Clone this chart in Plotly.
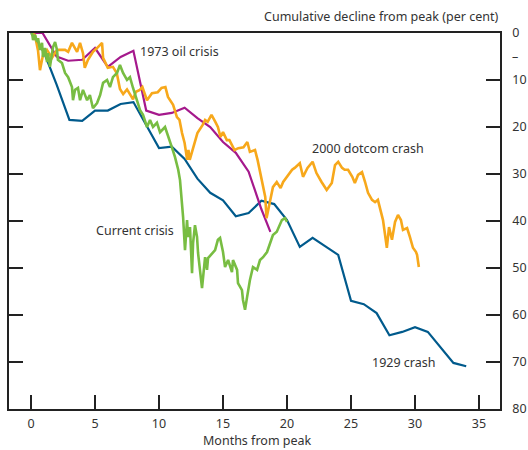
import plotly.graph_objects as go

# 1929 crash (monthly)
m1929 = [0, 1, 2, 3, 4, 5, 6, 7, 8, 9, 10, 11, 12, 13, 14, 15, 16, 17, 18, 19, 20,
         21, 22, 23, 24, 25, 26, 27, 28, 29, 30, 31, 32, 33, 34]
v1929 = [0, 4, 11, 18.5, 18.7, 16.5, 16.5, 15.1, 14.7, 19.5, 24.5, 24.2, 26.8, 31, 34,
         35.6, 39, 38.3, 35.7, 36.4, 39.8, 45.5, 43.6, 45.4, 47.2, 57, 57.7, 59.6,
         64.3, 63.6, 62.6, 63.6, 67, 70.2, 70.9]

# 1973 oil crisis
m1973 = [0, 0.9, 2, 2.9, 4, 5, 6, 7, 8, 9, 10, 11, 12, 13, 14, 15, 16, 17, 18, 18.7]
v1973 = [0, 0, 5, 5.9, 5.7, 3.2, 7.2, 5.1, 3.8, 16.5, 17.4, 17, 15.9, 18.1, 20, 23.2,
         25.5, 29.5, 37.5, 42.3]

# 2000 dotcom crash
m2000 = [0, 0.3, 0.55, 0.7, 0.86, 0.94, 1.25, 1.64, 2.03, 2.42, 2.66, 2.9, 3.2, 3.6,
         3.83, 4.06, 4.2, 4.45, 4.84, 5.16, 5.55, 5.63, 6.0, 6.4, 6.7, 6.95, 7.2, 7.5,
         7.97, 8.2, 8.5, 8.7, 9.06, 9.45, 9.9, 10.2, 10.5, 10.7, 11.1, 11.4, 11.6, 11.8,
         12.0, 12.2, 12.3, 12.4, 12.6, 12.8, 13.0, 13.4, 13.6, 13.8, 14.1, 14.4, 14.6,
         14.8, 15.0, 15.3, 15.5, 15.9, 16.2, 16.6, 16.9, 17.1, 17.5, 17.7, 18.0, 18.3,
         18.4, 18.7, 18.9, 19.2, 19.5, 19.7, 20.1, 20.4, 20.6, 21.0, 21.25, 21.6, 22.0,
         22.3, 22.7, 23.1, 23.5, 23.75, 24.0, 24.3, 24.5, 24.77, 25.1, 25.3, 25.55,
         25.86, 26.1, 26.33, 26.64, 26.88, 27.1, 27.27, 27.5, 27.8, 27.97, 28.2, 28.44,
         28.67, 28.9, 29.06, 29.38, 29.6, 29.84, 30.08, 30.16, 30.3]
v2000 = [0, 0.4, 3.8, 7.9, 5.7, 4.7, 3.6, 5.3, 3.6, 3.6, 3.6, 4.0, 2.1, 4.0,
         2.1, 4.3, 7.4, 5.7, 4.0, 3.2, 2.1, 5.3, 7.4, 7.2, 8.5, 11.9, 13.0, 12.0,
         14.1, 12.5, 12.1, 11.5, 14.3, 12.8, 12.6, 11.7, 11.5, 13.6, 15.3, 17.9, 18.5, 21.3,
         23.4, 27, 24.9, 27, 24.9, 23.4, 21.3, 19.6, 18.5, 18.9, 17.4, 18.9, 20,
         22.1, 21.1, 22.8, 22.8, 24.9, 24.5, 24.3, 23.2, 25.3, 24.9, 27, 31.3, 34.9,
         39.4, 35.5, 32.8, 31.7, 33, 31.7, 30.2, 29.1, 28.7, 27.7, 30.6, 28.7, 27.4,
         29.8, 31.7, 33.4, 31.9, 28.1, 27.4, 28.7, 29.1, 29.1, 30.6, 31.9, 30.2,
         29.6, 31.7, 34, 35.5, 36, 35.5, 37.2, 39.8, 45.7, 41.3, 44, 40.2,
         38.7, 39.8, 41.9, 41.5, 43.4, 45.7, 46.6, 47.2, 49.8]

# Current crisis
mcur = [0, 0.08, 0.16, 0.31, 0.47, 0.55, 0.7, 0.86, 0.94, 1.1, 1.25, 1.33, 1.48, 1.64,
        1.72, 1.88, 2.03, 2.1, 2.42, 2.66, 2.9, 3.2, 3.28, 3.44, 3.67, 3.83, 4.06, 4.38,
        4.6, 4.84, 5.16, 5.4, 5.63, 5.94, 6.17, 6.4, 6.72, 6.95, 7.19, 7.5, 7.73, 7.97,
        8.28, 8.52, 8.75, 9.06, 9.3, 9.53, 9.84, 10.08, 10.47, 10.7, 11.0, 11.25,
        11.5, 11.64, 11.88, 12.03, 12.19, 12.27, 12.42, 12.58, 12.66, 12.81, 12.97,
        13.05, 13.36, 13.6, 13.75, 13.83, 14.14, 14.38, 14.6, 14.77, 15.0, 15.16, 15.4,
        15.7, 15.78, 16.1, 16.17, 16.48, 16.56, 16.72, 16.88, 17.1, 17.34, 17.66,
        17.89, 18.13, 18.44, 18.67, 18.9, 19.2, 19.45, 19.6, 19.84, 20.0]
vcur = [0, 0, 1.5, 0.4, 1.9, 1.1, 3.6, 2.1, 5.1, 3.2, 6.2, 4.3, 7.2, 4.3,
        3.0, 1.9, 3.6, 5.7, 6.4, 8.5, 9.4, 11.5, 14.3, 12.1, 11.7, 14.3, 12.1, 14.3,
        13.2, 16, 14.9, 13.2, 10.6, 10, 11.5, 9.4, 8.5, 6.8, 8.5, 10, 9.4, 11.7,
        14.3, 16.4, 17.4, 20, 18.5, 20, 19.1, 21.1, 20, 22.1, 24.3, 26.4,
        29.1, 31.3, 39.1, 46.2, 39.8, 43.4, 41.3, 51.1, 44.7, 40.9, 43.4,
        46.8, 54.3, 47.7, 50.4, 47.9, 46.8, 46.2, 44, 43.6, 46.6, 49.8, 48.3,
        50.9, 48.3, 50.4, 53.2, 54.7, 56.8, 58.9, 56.2, 52.6, 49.8, 50.4,
        48.3, 47.7, 46.6, 44.7, 43, 42.3, 40.9, 39.8, 39.4, 40.2]

xticks = [0, 5, 10, 15, 20, 25, 30, 35]
yticks = [0, 10, 20, 30, 40, 50, 60, 70, 80]

fig = go.Figure()
series = [
    (m1929, v1929, '#005a8c', 2.2),
    (m1973, v1973, '#a5198c', 2.2),
    (m2000, v2000, '#f7a81b', 2.6),
    (mcur, vcur, '#78bd42', 2.6),
]
for m, v, c, w in series:
    fig.add_trace(go.Scatter(x=m, y=v, mode='lines', line=dict(color=c, width=w),
                             hoverinfo='skip', showlegend=False))

txt = '#333333'
fig.update_layout(
    width=528, height=450,
    margin=dict(l=9, r=28, t=33, b=41),
    plot_bgcolor='white', paper_bgcolor='white',
    font=dict(family='Noto Sans', size=12, color=txt),
)
fig.update_xaxes(range=[-1.72, 36.64], tickvals=xticks, ticks='inside', ticklen=14,
                 tickwidth=1.5, tickcolor='#222', showline=True, linecolor='#222',
                 linewidth=1.5, mirror=True, showgrid=False, zeroline=False,
                 automargin=False, ticklabelstandoff=2,
                 tickfont=dict(size=12.5, color=txt))
fig.update_yaxes(range=[80, 0], tickvals=yticks, side='right', ticks='inside', ticklen=14,
                 tickwidth=1.5, tickcolor='#222', showline=True, linecolor='#222',
                 linewidth=1.5, mirror='ticks', showgrid=False, zeroline=False,
                 automargin=False, ticklabelstandoff=8,
                 tickfont=dict(size=12.5, color=txt))

ann = [
    dict(text='Cumulative decline from peak (per cent)', xref='paper', yref='paper',
         x=1, y=1.043, xanchor='right', yanchor='middle', font=dict(size=12.5)),
    dict(text='Months from peak', xref='x', yref='paper', x=17.7, y=-0.085,
         xanchor='center', yanchor='middle', font=dict(size=12.5)),
    dict(text='\u2013', xref='paper', yref='y', x=1, y=5, xshift=10,
         xanchor='left', yanchor='middle', font=dict(size=12.5)),
    dict(text='1973 oil crisis', xref='x', yref='y', x=8.36, y=4.0,
         xanchor='left', yanchor='middle', font=dict(size=12.5)),
    dict(text='2000 dotcom crash', xref='x', yref='y', x=21.8, y=24.5,
         xanchor='left', yanchor='middle', font=dict(size=12.5)),
    dict(text='Current crisis', xref='x', yref='y', x=4.92, y=42.1,
         xanchor='left', yanchor='middle', font=dict(size=12.5)),
    dict(text='1929 crash', xref='x', yref='y', x=26.5, y=70,
         xanchor='left', yanchor='middle', font=dict(size=12.5)),
]
for a in ann:
    a['showarrow'] = False
    fig.add_annotation(**a)

# remove the default page margin so the 528x450 figure fills the window exactly
fig.write_html('out.html', config={'displayModeBar': False},
               post_script="document.body.style.margin='0';document.body.style.overflow='hidden';")
